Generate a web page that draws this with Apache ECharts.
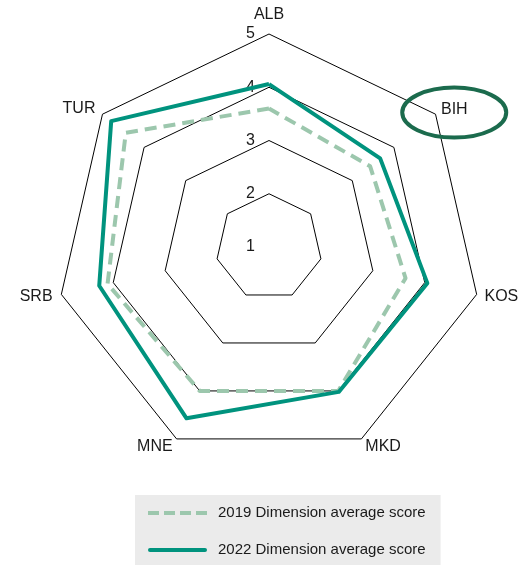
<!DOCTYPE html>
<html>
<head>
<meta charset="utf-8">
<style>
  html, body { margin: 0; padding: 0; background: #ffffff; }
  #chart { width: 520px; height: 566px; }
</style>
<script src="https://cdn.jsdelivr.net/npm/echarts@6/dist/echarts.min.js"></script>
</head>
<body>
<div id="chart"></div>
<script>
// Countries, clockwise from the top
const countries = ['ALB', 'BIH', 'KOS', 'MKD', 'MNE', 'SRB', 'TUR'];
// Average dimension scores per country
const scores2019 = [3.60, 3.43, 3.63, 4.00, 4.00, 4.11, 4.44];
const scores2022 = [4.06, 3.67, 4.05, 4.02, 4.57, 4.27, 4.79];
const seriesNames = ['2019 Dimension average score', '2022 Dimension average score'];
const scaleMin = 1;
const scaleMax = 5;

const FONT = '"Liberation Sans", Arial, sans-serif';
const centerX = 269, centerY = 247, outerRadius = 213;
// Distance of each country label from the outer ring
const nameGaps = [11, 7, 8, 9, 9, 9, 9];

// ECharts lays radar axes out counter-clockwise; keep the first axis on top
// and reverse the rest so the countries run clockwise.
const order = [0].concat(countries.map((_, i) => i).slice(1).reverse());
const reorder = arr => order.map(i => arr[i]);

const chart = echarts.init(document.getElementById('chart'), null, { renderer: 'canvas' });

// Dashed legend swatch: four short bars
const dashIcon = 'path://M0,0h11v4h-11z M16,0h11v4h-11z M32,0h11v4h-11z M48,0h11v4h-11z';
const solidIcon = 'path://M2,0h55a2,2 0 0 1 0,4h-55a2,2 0 0 1 0,-4z';

// Highlight ring around the BIH label, placed along its spoke
const bihAngle = Math.PI / 2 - 2 * Math.PI / countries.length;
const ringCx = centerX + (outerRadius + 38) * Math.cos(bihAngle) - 11;
const ringCy = centerY - (outerRadius + 38) * Math.sin(bihAngle) + 22;

const gapsInOrder = reorder(nameGaps);

chart.setOption({
  animation: false,
  backgroundColor: '#ffffff',
  textStyle: { fontFamily: FONT },
  radar: {
    center: [centerX, centerY],
    radius: outerRadius,
    startAngle: 90,
    shape: 'polygon',
    splitNumber: 4,
    indicator: reorder(countries).map((name, i) => ({
      name: name,
      min: scaleMin,
      max: scaleMax,
      nameGap: gapsInOrder[i],
      axisLabel: { show: i === 0 }
    })),
    axisName: { color: '#1a1a1a', fontSize: 16, fontFamily: FONT },
    axisLine: { show: false },
    axisTick: { show: false },
    axisLabel: {
      show: true,
      color: '#1a1a1a',
      fontSize: 16,
      fontFamily: FONT,
      margin: 14,
      showMinLabel: true
    },
    splitLine: { lineStyle: { color: '#000000', width: 1 } },
    splitArea: { show: false }
  },
  legend: {
    orient: 'vertical',
    left: 135,
    top: 495,
    backgroundColor: '#ebebeb',
    padding: [9, 15, 6, 13],
    itemWidth: 59,
    itemHeight: 4,
    itemGap: 19,
    textStyle: { color: '#1a1a1a', fontSize: 15, fontFamily: FONT, padding: [0, 0, 0, 6], lineHeight: 18 },
    data: [
      { name: seriesNames[0], icon: dashIcon, itemStyle: { color: '#9cc7ad' } },
      { name: seriesNames[1], icon: solidIcon, itemStyle: { color: '#00937e' } }
    ]
  },
  series: [
    {
      type: 'radar',
      name: seriesNames[0],
      symbol: 'none',
      lineStyle: { color: '#9cc7ad', width: 4, type: [12, 7] },
      itemStyle: { color: '#9cc7ad' },
      data: [{ value: reorder(scores2019), name: seriesNames[0] }]
    },
    {
      type: 'radar',
      name: seriesNames[1],
      symbol: 'none',
      lineStyle: { color: '#00937e', width: 4 },
      itemStyle: { color: '#00937e' },
      data: [{ value: reorder(scores2022), name: seriesNames[1] }]
    }
  ],
  graphic: [
    {
      type: 'ellipse',
      shape: { cx: ringCx, cy: ringCy, rx: 52, ry: 25 },
      style: { fill: 'none', stroke: '#1b6b4d', lineWidth: 4 },
      z: 100
    }
  ]
});
</script>
</body>
</html>
